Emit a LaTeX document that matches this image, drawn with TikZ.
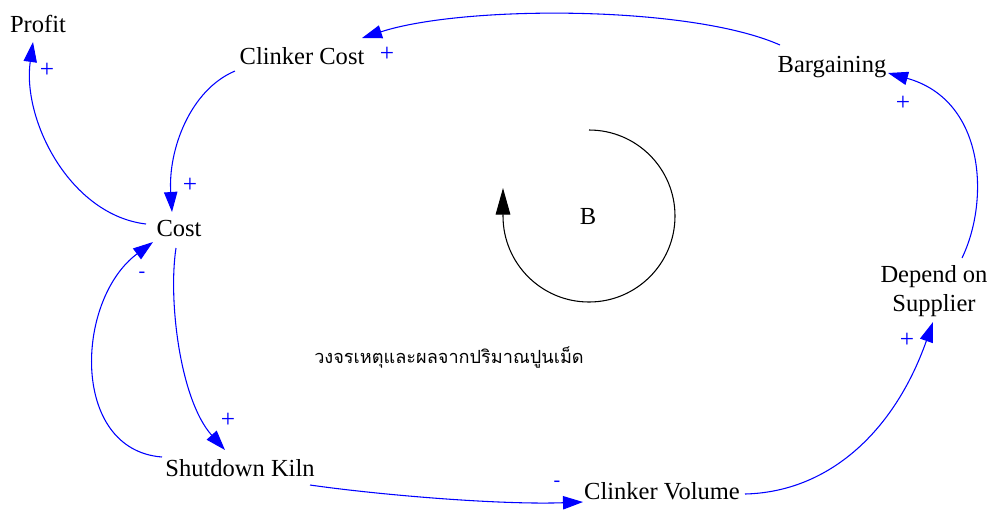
\documentclass[tikz,border=0pt]{standalone}
\usepackage{fontspec}
\setmainfont{Liberation Serif}
\newfontfamily\thaifont[Script=Thai]{Loma}
\usetikzlibrary{arrows.meta}
\begin{document}
\begin{tikzpicture}[x=0.75pt,y=-0.75pt,
  lbl/.style={font=\fontsize{18.4pt}{22pt}\selectfont, inner sep=0pt, align=center},
  pol/.style={font=\fontsize{19pt}{21pt}\selectfont, text=blue, inner sep=0pt},
  neg/.style={font=\fontsize{15pt}{17pt}\selectfont, text=blue, inner sep=0pt},
  cl/.style={draw=blue, line width=0.8pt, -{Triangle[length=15pt,width=10pt]}},
]
\useasboundingbox (0,0) rectangle (996,512);

\node[lbl] (profit) at (38,24) {Profit};
\node[lbl] (cc) at (302,56) {Clinker Cost};
\node[lbl] (barg) at (832,67) {Bargaining};
\node[lbl] (cost) at (179,228) {Cost};
\node[lbl] (dep) at (934,291) {Depend on\\Supplier};
\node[lbl] (kiln) at (240,468) {Shutdown Kiln};
\node[lbl] (vol) at (662,491) {Clinker Volume};
\node[lbl] (b) at (588,216) {B};
\node[font=\thaifont\fontsize{13.6pt}{15pt}\selectfont, inner sep=0pt] (title) at (449,357) {วงจรเหตุและผลจากปริมาณปูนเม็ด};

% connectors
\draw[cl] ([shift={(-52,-22)}]barg.center) .. controls (690,5) and (463,5) .. ([shift={(60,-18)}]cc.center);
\draw[cl] ([shift={(-67,15)}]cc.center) .. controls (190,90) and (168,150) .. ([shift={(-7,-16)}]cost.center);
\draw[cl] ([shift={(-33,-4)}]cost.center) .. controls (70,215) and (22,120) .. ([shift={(-5,18)}]profit.center);
\draw[cl] ([shift={(-3,20)}]cost.center) .. controls (168,300) and (180,400) .. ([shift={(-15,-18)}]kiln.center);
\draw[cl] ([shift={(-78,-11)}]kiln.center) .. controls (70,450) and (75,300) .. ([shift={(-26,14)}]cost.center);
\draw[cl] ([shift={(70,17)}]kiln.center) .. controls (380,495) and (500,505) .. ([shift={(-79,11)}]vol.center);
\draw[cl] ([shift={(83,3)}]vol.center) .. controls (830,492) and (895,430) .. ([shift={(-1,31)}]dep.center);
\draw[cl] ([shift={(28,-33)}]dep.center) .. controls (990,200) and (985,100) .. ([shift={(56,6)}]barg.center);

% loop marker
\coordinate (bs) at ([shift={(1,-86)}]b.center);
\coordinate (be) at ([shift={(-85,-28)}]b.center);
\draw[line width=0.8pt, -{Triangle[length=20pt,width=11pt]}] (bs) arc[start angle=-90, end angle=180, radius=86] -- (be);

% polarities
\node[pol] (p1) at (387,54) {+};
\node[pol] (p2) at (190,185) {+};
\node[pol] (p3) at (47,70) {+};
\node[pol] (p4) at (228,420) {+};
\node[neg] (p5) at (142,275) {-};
\node[neg] (p6) at (557,484) {-};
\node[pol] (p7) at (907,340) {+};
\node[pol] (p8) at (903,103) {+};
\end{tikzpicture}
\end{document}
